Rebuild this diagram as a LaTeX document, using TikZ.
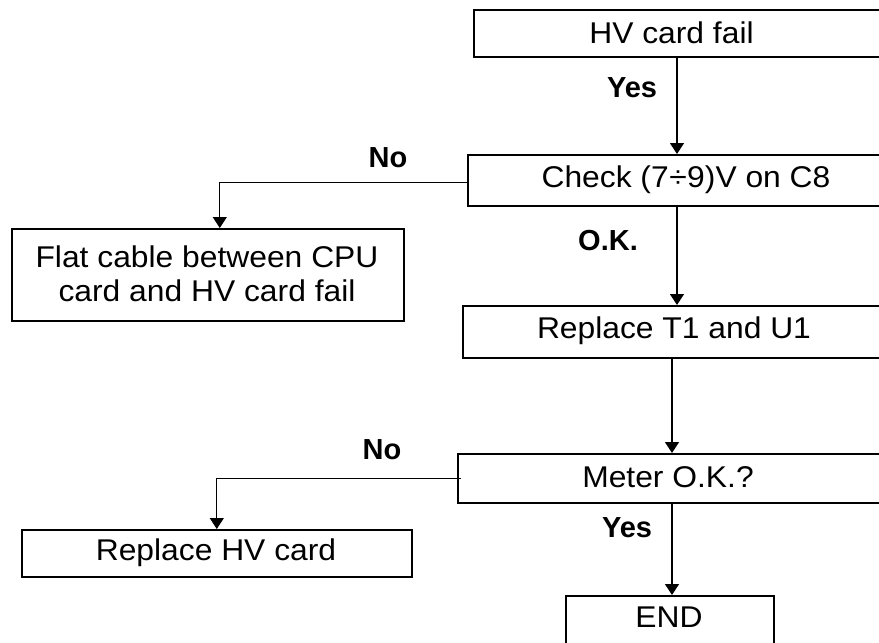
\documentclass[tikz,border=0pt]{standalone}
\usepackage{fontspec}
\setmainfont{Liberation Sans}
\newfontfamily\boxfont{Liberation Sans}[FakeStretch=1.06]
\usetikzlibrary{arrows.meta}
\begin{document}
\begin{tikzpicture}[x=1pt,y=-1pt,
  box/.style={draw=black, line width=1.6pt, rectangle, inner sep=0pt, anchor=north west},
  txt/.style={inner sep=0pt, font=\boxfont\fontsize{30}{34}\selectfont, align=center},
  lbl/.style={inner sep=0pt, font=\bfseries\fontsize{29}{32}\selectfont},
  arr/.style={line width=1.3pt, -{Triangle[length=11pt,width=14pt]}}]
\useasboundingbox (0,0) rectangle (879,643);
% boxes
\node[box, minimum width=420pt, minimum height=47pt] (hv) at (473,9) {};
\node[txt] (hvt) at (671.5,32.5) {HV card fail};
\node[box, minimum width=420pt, minimum height=51pt] (check) at (467,154) {};
\node[txt] (checkt) at (686,179.5) {Check (7\kern0.5pt÷\kern0.5pt9)V on C8};
\node[box, minimum width=392pt, minimum height=92pt] (flat) at (11,228) {};
\node[txt] (flatt) at (207,274) {Flat cable between CPU\\card and HV card fail};
\node[box, minimum width=420pt, minimum height=52pt] (rep) at (462,305) {};
\node[txt] (rept) at (674,331) {Replace T1 and U1};
\node[box, minimum width=425pt, minimum height=49pt] (meter) at (457,453) {};
\node[txt] (metert) at (668,477.5) {Meter O.K.?};
\node[box, minimum width=390pt, minimum height=47pt] (rhv) at (21,529) {};
\node[txt] (rhvt) at (216,552.5) {Replace HV card};
\node[box, minimum width=208pt, minimum height=60pt] (end) at (565,595) {};
\node[txt] (endt) at (669,617) {END};
% labels
\node[lbl] (l1) at (632,88) {Yes};
\node[lbl] (l2) at (388,158) {No};
\node[lbl] (l3) at (608,241) {O.K.};
\node[lbl] (l4) at (382,450) {No};
\node[lbl] (l5) at (627,528) {Yes};
% connectors
\coordinate (xa) at (677,0);
\coordinate (xb) at (672,0);
\draw[arr] (xa |- hv.south) -- (xa |- check.north);
\draw[arr] (xa |- check.south) -- (xa |- rep.north);
\draw[arr] (xb |- rep.south) -- (xb |- meter.north);
\draw[arr] (xb |- meter.south) -- (xb |- end.north);
\draw[arr] ([yshift=-2.5pt]check.west) -| ([xshift=12pt]flat.north);
\draw[arr] ([xshift=4pt]meter.west) -| (rhv.north);
\end{tikzpicture}
\end{document}
